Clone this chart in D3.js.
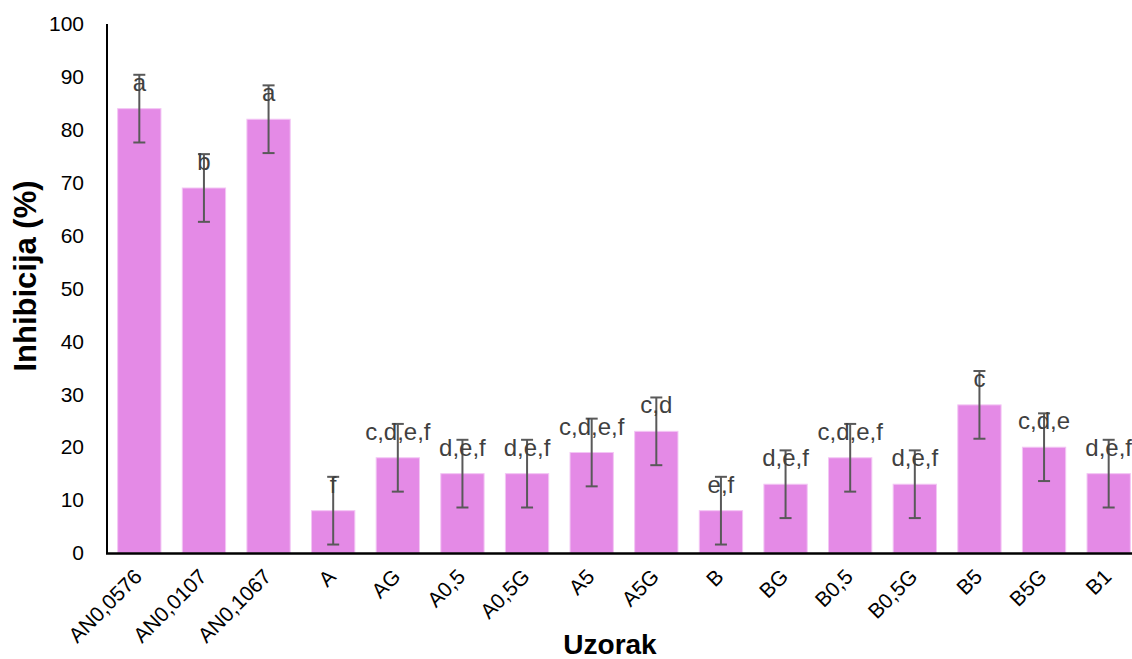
<!DOCTYPE html>
<html>
<head>
<meta charset="utf-8">
<script src="https://cdn.jsdelivr.net/npm/d3@7"></script>
<style>
  body { margin: 0; background: #fff; }
  svg { display: block; font-family: "Liberation Sans", Arial, sans-serif; }
</style>
</head>
<body>
<svg id="chart" width="1132" height="659"></svg>
<script>
// Samples, mean inhibition, error (+/-) and significance letters.
const samples = ['AN0,0576', 'AN0,0107', 'AN0,1067', 'A', 'AG', 'A0,5', 'A0,5G', 'A5', 'A5G',
    'B', 'BG', 'B0,5', 'B0,5G', 'B5', 'B5G', 'B1'];
const inhibition = [84, 69, 82, 8, 18, 15, 15, 19, 23, 8, 13, 18, 13, 28, 20, 15];
const errors = [6.4, 6.4, 6.4, 6.4, 6.4, 6.4, 6.4, 6.4, 6.4, 6.4, 6.4, 6.4, 6.4, 6.4, 6.4, 6.4];
const letters = ['a', 'b', 'a', 'f', 'c,d,e,f', 'd,e,f', 'd,e,f', 'c,d,e,f', 'c,d',
    'e,f', 'd,e,f', 'c,d,e,f', 'd,e,f', 'c', 'c,d,e', 'd,e,f'];
const yTicks = [0, 10, 20, 30, 40, 50, 60, 70, 80, 90, 100];

const rows = samples.map((s, i) => ({ name: s, value: inhibition[i], err: errors[i], label: letters[i] }));

let svg = d3.select("#chart"),
    width = 1132,
    height = 659;

// Plot area
const plotLeft = 107, plotTop = 24, plotBottom = 553;

let x = d3.scaleBand()
    .domain(samples)
    .range([plotLeft, 1141])
    .paddingInner(0.33)
    .paddingOuter(0.165);

let y = d3.scaleLinear()
    .domain([0, 100])
    .range([plotBottom, plotTop]);

// Bars
svg.append("g")
    .selectAll("rect")
    .data(rows)
    .enter().append("rect")
    .attr("x", d => x(d.name))
    .attr("y", d => y(d.value))
    .attr("width", x.bandwidth())
    .attr("height", d => y(0) - y(d.value))
    .attr("fill", "#E48AE6")
    .attr("stroke", "#F3C6F4")
    .attr("stroke-width", 1);

// Error bars
let eb = svg.append("g")
    .attr("stroke", "#595959")
    .attr("stroke-width", 2)
    .selectAll("g")
    .data(rows)
    .enter().append("g")
    .attr("transform", d => `translate(${x(d.name) + x.bandwidth() / 2},0)`);

eb.append("line")
    .attr("y1", d => y(d.value + d.err))
    .attr("y2", d => y(d.value - d.err));
eb.append("line")
    .attr("x1", -6).attr("x2", 6)
    .attr("y1", d => y(d.value + d.err))
    .attr("y2", d => y(d.value + d.err));
eb.append("line")
    .attr("x1", -6).attr("x2", 6)
    .attr("y1", d => y(d.value - d.err))
    .attr("y2", d => y(d.value - d.err));

// Significance letters
svg.append("g")
    .selectAll("text")
    .data(rows)
    .enter().append("text")
    .attr("x", d => x(d.name) + x.bandwidth() / 2)
    .attr("y", d => y(d.value + d.err) + 16)
    .attr("text-anchor", "middle")
    .attr("font-size", 24)
    .attr("fill", "#404040")
    .text(d => d.label);

// Y axis
let yAxis = d3.axisLeft(y)
    .tickValues(yTicks)
    .tickSize(0)
    .tickPadding(23);

svg.append("g")
    .attr("transform", `translate(${plotLeft},0)`)
    .call(yAxis)
    .call(g => g.select(".domain").remove())
    .attr("font-size", 21)
    .attr("font-family", "Liberation Sans, Arial, sans-serif")
    .selectAll("text")
    .attr("fill", "#000");

svg.append("line")
    .attr("x1", plotLeft).attr("x2", plotLeft)
    .attr("y1", y(100)).attr("y2", plotBottom)
    .attr("stroke", "#000")
    .attr("stroke-width", 2);

// X axis
svg.append("line")
    .attr("x1", plotLeft - 1).attr("x2", width)
    .attr("y1", plotBottom + 0.5).attr("y2", plotBottom + 0.5)
    .attr("stroke", "#000")
    .attr("stroke-width", 2.5);

svg.append("g")
    .selectAll("text")
    .data(samples)
    .enter().append("text")
    .attr("transform", d => `translate(${x(d) + x.bandwidth() / 2 + 4},${578}) rotate(-45)`)
    .attr("text-anchor", "end")
    .attr("font-size", 21)
    .attr("fill", "#000")
    .text(d => d);

// Axis titles
svg.append("text")
    .attr("transform", "translate(36,276) rotate(-90)")
    .attr("text-anchor", "middle")
    .attr("font-size", 31)
    .attr("font-weight", "bold")
    .text("Inhibicija (%)");

svg.append("text")
    .attr("x", 610)
    .attr("y", 654)
    .attr("text-anchor", "middle")
    .attr("font-size", 28)
    .attr("font-weight", "bold")
    .text("Uzorak");
</script>
</body>
</html>
